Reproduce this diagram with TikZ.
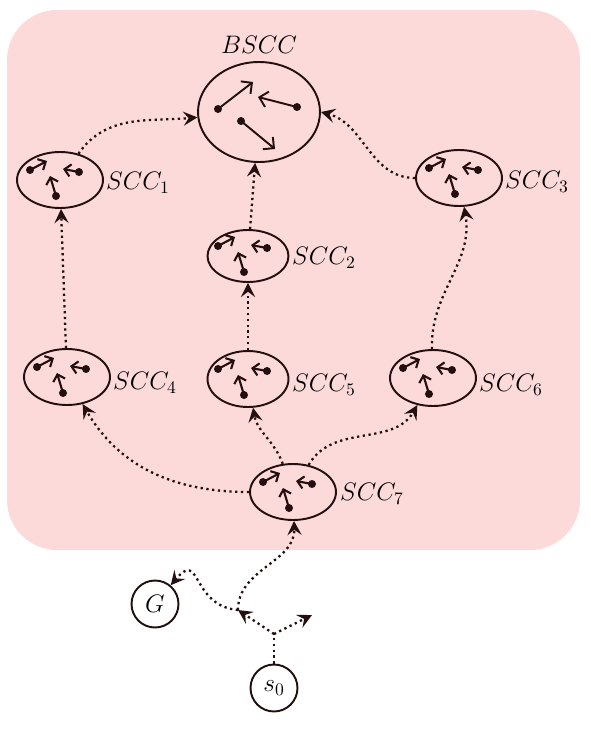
\documentclass[tikz,border=0pt]{standalone}
\usetikzlibrary{arrows.meta, shapes.geometric}

\definecolor{bgpink}{RGB}{253,218,218}
\definecolor{ink}{RGB}{35,15,15}

\tikzset{
    scc/.style={ellipse, draw=ink, line width=1.1pt, minimum width=1.72cm, minimum height=1.12cm, inner sep=0pt},
    state/.style={circle, draw=ink, line width=1.1pt, minimum size=0.94cm, inner sep=0pt, font=\Large},
    lbl/.style={font=\Large, anchor=west, inner sep=1pt},
    flow/.style={dotted, line width=1.3pt, ink, -{Stealth[length=8pt,width=8pt,inset=3pt]}},
    mini/.pic={
        \begin{scope}[ink, line width=1.2pt, -{Straight Barb[length=3.5pt,width=7pt]}]
            \draw (-30,-10) -- (-13,-19);
            \draw (19,-8) -- (3,-11);
            \draw (-4,16) -- (-10,-4);
        \end{scope}
        \fill[ink] (-30,-10) circle (0.08cm) (19,-8) circle (0.08cm) (-4,16) circle (0.08cm);
    }
}

\begin{document}
\begin{tikzpicture}[x=0.02cm, y=-0.02cm]
\useasboundingbox (0,0) rectangle (591,738);
\fill[bgpink, rounded corners=1cm] (7,10) rectangle (580,550);

% components
\node (bscc) at (259,112) [scc, minimum width=2.44cm, minimum height=2cm] {};
\node (lbscc) at (259,45) [font=\Large] {$BSCC$};
\node (s1) at (60,180) [scc] {};
\node (s2) at (248,256) [scc, minimum width=1.62cm, minimum height=1.04cm] {};
\node (s3) at (459,178) [scc] {};
\node (s4) at (67,377) [scc] {};
\node (s5) at (248,379) [scc, minimum width=1.62cm] {};
\node (s6) at (433,378) [scc] {};
\node (s7) at (293,492) [scc] {};

\node (l1) at (104,183) [lbl] {$SCC_1$};
\node (l2) at (290,258) [lbl] {$SCC_2$};
\node (l3) at (503,182) [lbl] {$SCC_3$};
\node (l4) at (111,383) [lbl] {$SCC_4$};
\node (l5) at (290,385) [lbl] {$SCC_5$};
\node (l6) at (477,385) [lbl] {$SCC_6$};
\node (l7) at (338,494) [lbl] {$SCC_7$};

\foreach \n in {s1,s2,s3,s4,s5,s6,s7}
    \pic at (\n.center) {mini};

% inside the bottom component
\begin{scope}[ink, line width=1.1pt, -{Straight Barb[length=4.5pt,width=9pt]}]
    \draw (218,109) -- (253,82);
    \draw (297,107) -- (258,97);
    \draw (241,121) -- (275,149);
\end{scope}
\fill[ink] (218,109) circle (0.08cm) (297,107) circle (0.08cm) (241,121) circle (0.08cm);

\node (g) at (155,604) [state] {$G$};
\node (s0) at (274,688) [state] {$s_0$};
\coordinate (fork) at (274,634);
\coordinate (mid) at (238,610);
\coordinate (rt) at (312,615);

\begin{scope}[every edge/.style={draw, flow}]
    \path (s1) edge[out=55, in=185] (bscc);
    \path (s3.west) edge[out=180, in=-15] (bscc.east);
    \path (s2) edge (bscc);
    \path (s4) edge (s1);
    \path (s5) edge (s2);
    \path (s6) edge[out=92, in=-80] (s3);
    \path (s7) edge[out=180, in=-60] (s4);
    \path (s7) edge[out=110, in=-80] (s5);
    \path (s7) edge[out=60, in=-120] (s6);
    \path (fork) edge (mid);
    \path (fork) edge (rt);
    \path (mid) edge[out=90, in=-88] (s7);
    \path (mid) edge[out=175, in=50, looseness=1.7] (g);
\end{scope}
\draw[dotted, line width=1.3pt, ink] (s0) -- (fork);
\end{tikzpicture}
\end{document}
